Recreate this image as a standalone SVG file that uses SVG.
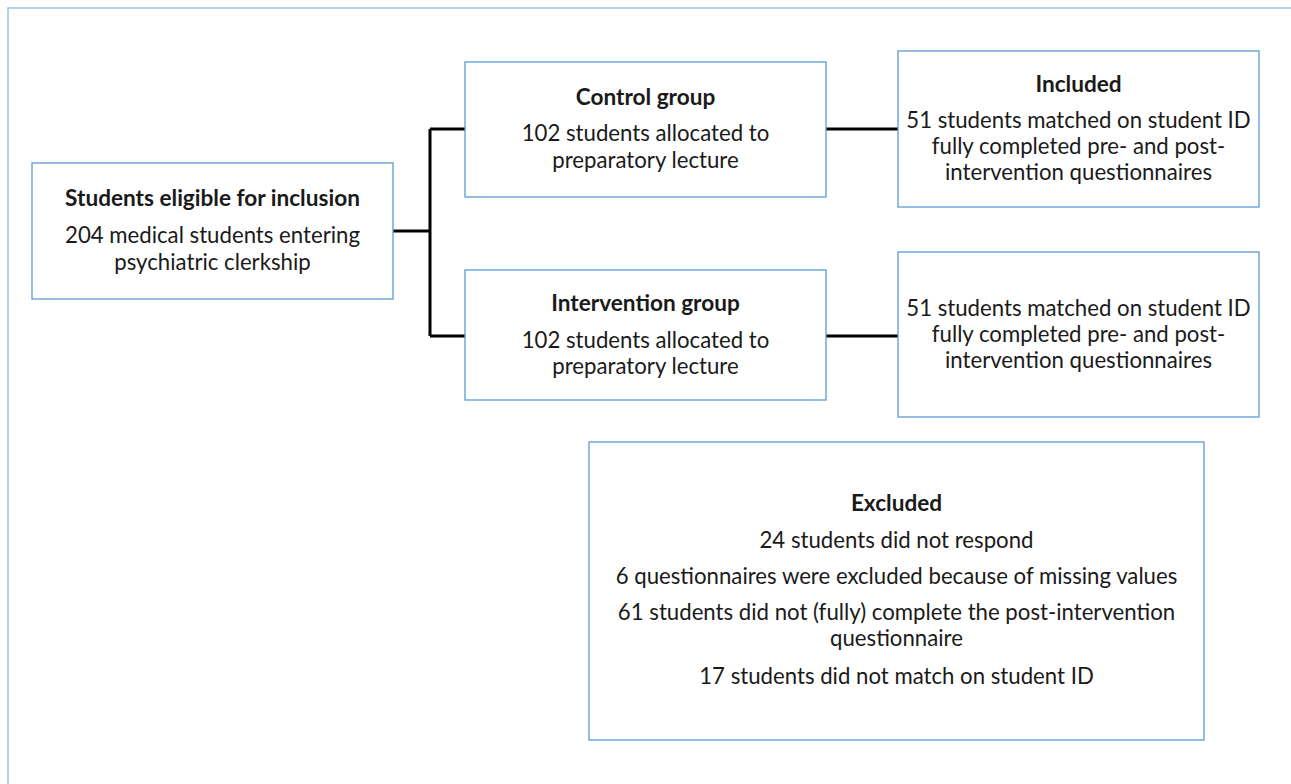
<svg xmlns="http://www.w3.org/2000/svg" width="1291" height="784" viewBox="0 0 1291 784">
<style>
.frame{fill:none;stroke:#9dc3e6;stroke-width:1.5}
.box{fill:#fff;stroke:#5b9bd5;stroke-width:1.3}
.conn{fill:none;stroke:#000;stroke-width:3}
text{font-family:Lato,"Open Sans",sans-serif;font-size:22.2px;fill:#1a1a1a;text-anchor:middle}
.b{font-weight:bold;font-size:22.6px}
</style>
<rect width="1291" height="784" fill="#fff"/>
<path class="frame" d="M8,784 V8 H1291"/>
<g id="connectors">
<path class="conn" d="M393,231 H430 M430,129 V336 M430,129 H465 M430,336 H465 M826,129 H898 M826,336 H898"/>
</g>
<g id="eligible">
<rect class="box" x="32" y="163" width="361" height="136"/>
<text class="b" x="212.5" y="206">Students eligible for inclusion</text>
<text x="212.5" y="243">204 medical students entering</text>
<text x="212.5" y="270">psychiatric clerkship</text>
</g>
<g id="control">
<rect class="box" x="465" y="62" width="361" height="135"/>
<text class="b" x="645.5" y="105">Control group</text>
<text x="645.5" y="141">102 students allocated to</text>
<text x="645.5" y="168">preparatory lecture</text>
</g>
<g id="intervention">
<rect class="box" x="465" y="270" width="361" height="130"/>
<text class="b" x="645.5" y="311">Intervention group</text>
<text x="645.5" y="348">102 students allocated to</text>
<text x="645.5" y="374">preparatory lecture</text>
</g>
<g id="included-control">
<rect class="box" x="898" y="51" width="361" height="156"/>
<text class="b" x="1078.5" y="92">Included</text>
<text x="1078.5" y="128">51 students matched on student ID</text>
<text x="1078.5" y="154">fully completed pre- and post-</text>
<text x="1078.5" y="180">intervention questionnaires</text>
</g>
<g id="included-intervention">
<rect class="box" x="898" y="252" width="361" height="165"/>
<text x="1078.5" y="316">51 students matched on student ID</text>
<text x="1078.5" y="342">fully completed pre- and post-</text>
<text x="1078.5" y="368">intervention questionnaires</text>
</g>
<g id="excluded">
<rect class="box" x="589" y="442" width="615" height="298"/>
<text class="b" x="896.5" y="511">Excluded</text>
<text x="896.5" y="548">24 students did not respond</text>
<text x="896.5" y="584">6 questionnaires were excluded because of missing values</text>
<text x="896.5" y="620">61 students did not (fully) complete the post-intervention</text>
<text x="896.5" y="646">questionnaire</text>
<text x="896.5" y="684">17 students did not match on student ID</text>
</g>
</svg>
